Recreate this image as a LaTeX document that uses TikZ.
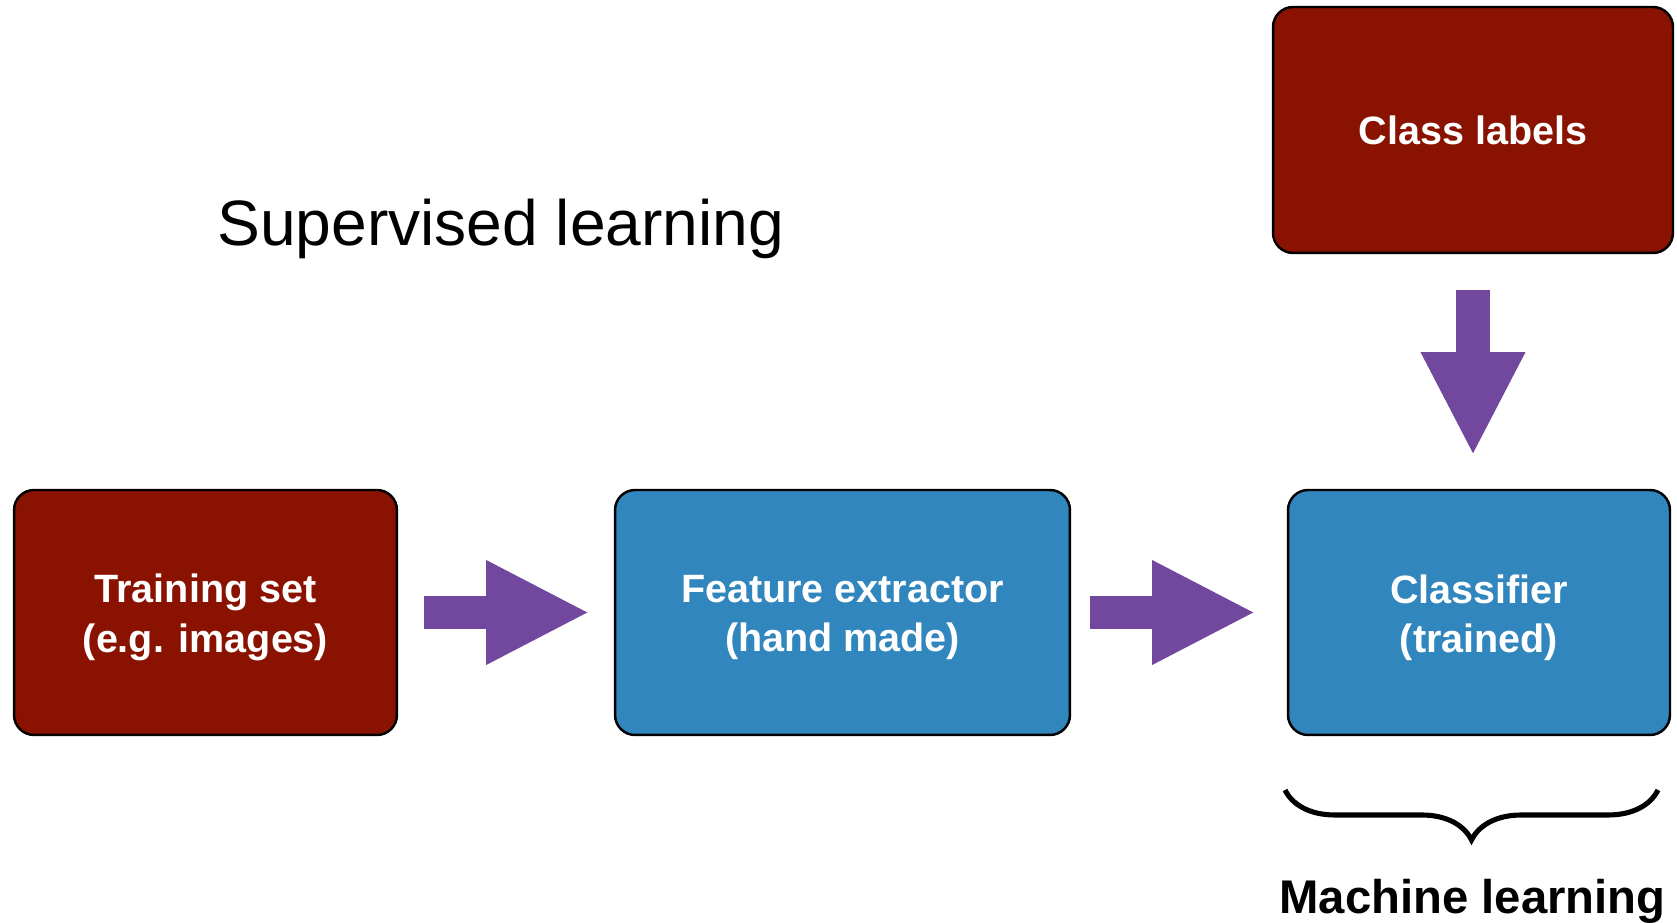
\documentclass[tikz,border=0pt]{standalone}
\usepackage{fontspec}
\setmainfont{Liberation Sans}
\usetikzlibrary{arrows.meta}
\usetikzlibrary{decorations.pathreplacing}

\definecolor{boxred}{RGB}{137,18,0}
\definecolor{boxblue}{RGB}{50,134,190}
\definecolor{flowpurple}{RGB}{114,72,158}
\newcommand{\lowered}[1]{\raisebox{-2.8pt}[\height][\depth]{#1}}

\begin{document}
\begin{tikzpicture}[x=0.02cm, y=0.02cm,
	block/.style={draw=black, line width=1.4pt, rounded corners=0.4cm, text=white, align=center,
		font=\bfseries\fontsize{22.5}{28}\selectfont, minimum height=4.9cm, inner sep=0pt},
	redbox/.style={block, fill=boxred},
	bluebox/.style={block, fill=boxblue},
	flow/.style={draw=flowpurple, line width=19.3pt, -{Triangle[width=55pt, length=59pt]}}]

	\useasboundingbox (0,0) rectangle (1677,923);

	% boxes
	\node[redbox, minimum width=7.66cm] (train) at (205.5,310.5) {\lowered{Training set}\\\lowered{(e.g. images)}};
	\node[bluebox, minimum width=9.1cm] (feat) at (842.5,310.5) {\lowered{Feature extractor}\\\lowered{(hand made)}};
	\node[bluebox, minimum width=7.64cm] (clf) at (1479,310.5) {\lowered{Classifier}\\\lowered{(trained)}};
	\node[redbox, minimum width=8cm, minimum height=4.92cm] (labels) at (1473,793) {Class labels};

	% title
	\node[anchor=base west, inner sep=0pt, font=\fontsize{36.5}{44}\selectfont] (title) at (217,677) {Supervised learning};

	% arrows
	\draw[flow, shorten <=0.52cm, shorten >=0.48cm] (train.east) -- (feat.west);
	\draw[flow, shorten <=0.38cm, shorten >=0.62cm] (feat.east) -- (clf.west);
	\draw[flow, shorten <=0.72cm, shorten >=0.66cm] (labels.south) -- (labels.south |- clf.north);

	% brace
	\coordinate (bl) at (1285,133);
	\coordinate (br) at (1658,133);
	\draw[line width=2.9pt, decorate, decoration={brace, mirror, amplitude=1cm}] (bl) -- (br);
	\node[anchor=base, inner sep=0pt, font=\bfseries\fontsize{26.9}{32}\selectfont] (ml) at (1472.5,10) {Machine learning};
\end{tikzpicture}
\end{document}
